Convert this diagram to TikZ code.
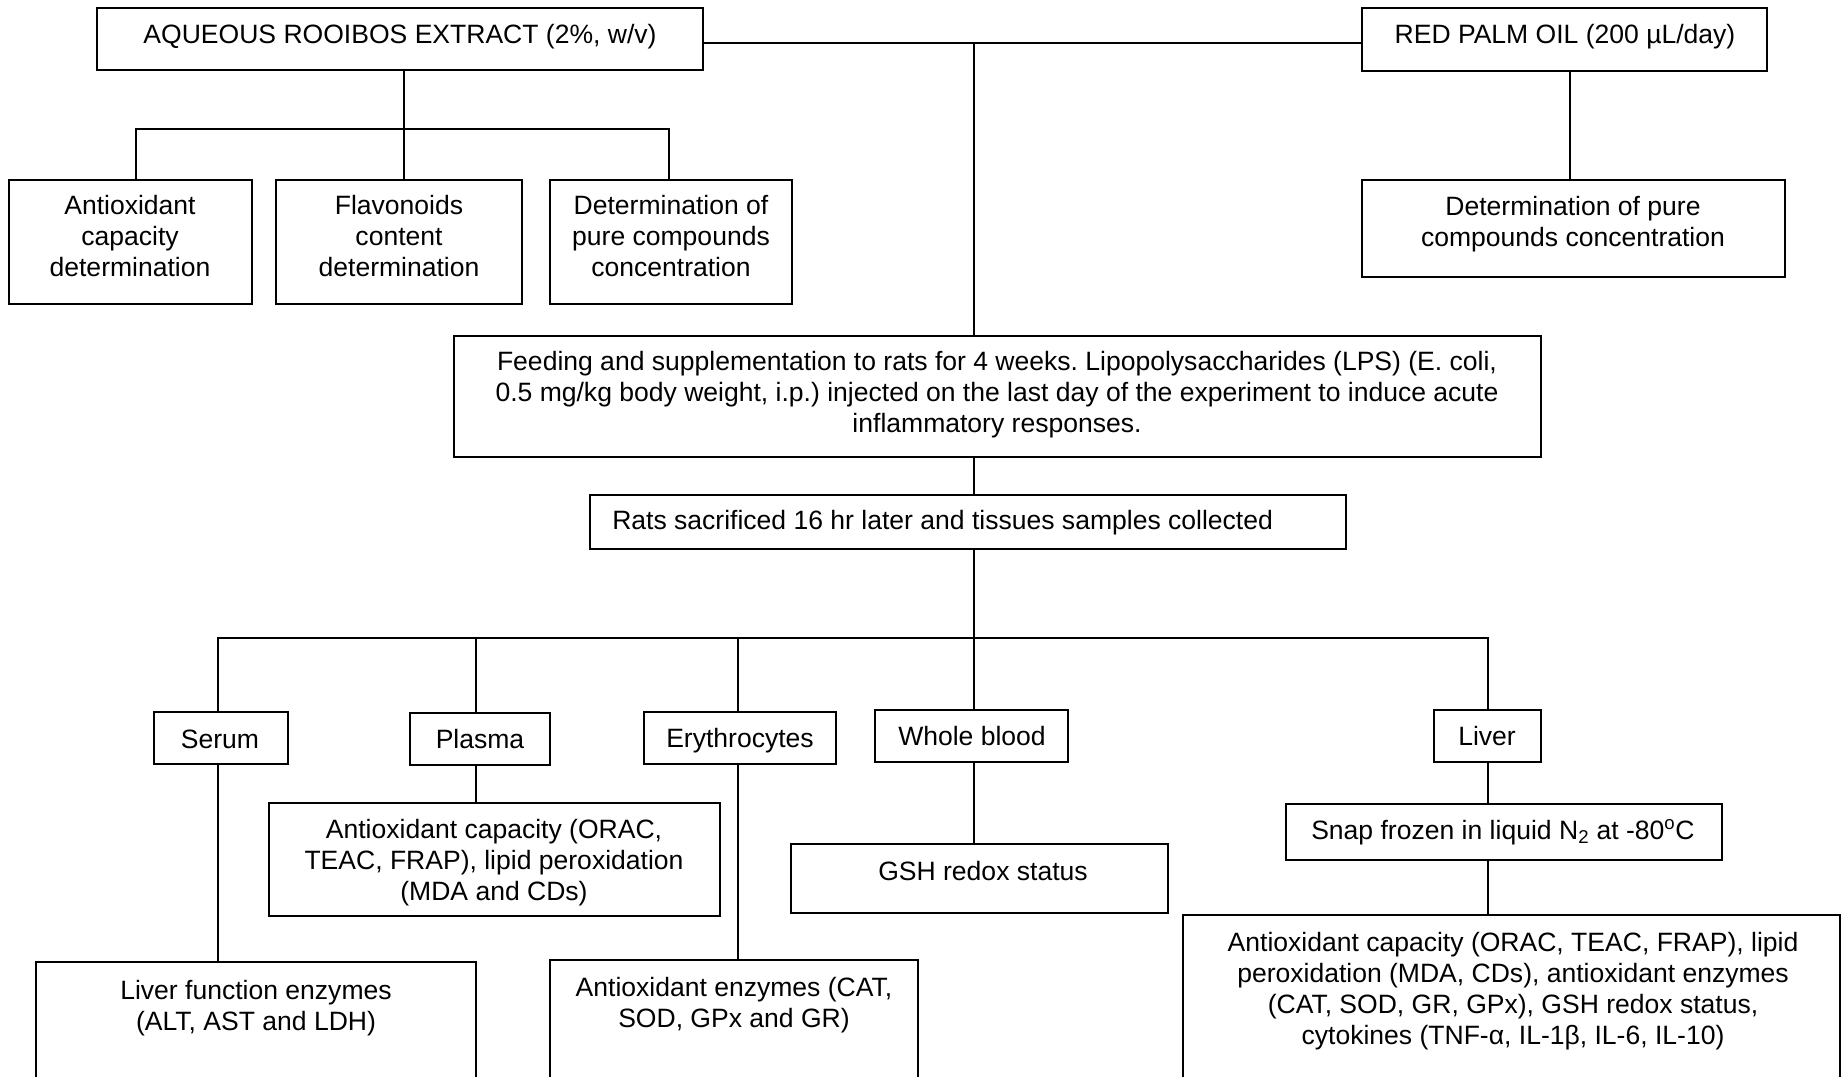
\documentclass[tikz,border=0pt]{standalone}
\usepackage{fontspec}
\setmainfont{Liberation Sans}
\usetikzlibrary{fit}
\begin{document}
\frenchspacing
\begin{tikzpicture}[x=0.75pt,y=-0.75pt,
  box/.style={draw=black, line width=1.3pt, inner sep=0pt, rectangle},
  txt/.style={align=center, inner sep=0pt, text=black, font=\fontsize{19.9}{23.25}\selectfont},
  conn/.style={draw=black, line width=1.3pt}]
\clip (0,0) rectangle (1841,1077);
\fill[white] (0,0) rectangle (1841,1077);
% ---------- top row
\node[box, fit={(97,8) (703,70)}] (aq) {};
\node[txt] (aqT) at (400,37) {AQUEOUS ROOIBOS EXTRACT (2\%, w/v)};
\node[box, fit={(1362,8) (1767,71)}] (rpo) {};
\node[txt] (rpoT) at (1565,37) {RED PALM OIL (200 µL/day)};
% ---------- rooibos analyses
\node[box, fit={(9,180) (252,304)}] (b1) {};
\node[txt] (b1T) at (130,236.5) {Antioxidant\\capacity\\determination};
\node[box, fit={(276,180) (522,304)}] (b2) {};
\node[txt] (b2T) at (399,236.5) {Flavonoids\\content\\determination};
\node[box, fit={(550,180) (792,304)}] (b3) {};
\node[txt] (b3T) at (671,236.5) {Determination of\\pure compounds\\concentration};
\node[box, fit={(1362,180) (1785,277)}] (rpd) {};
\node[txt] (rpdT) at (1573,224) {Determination of pure\\compounds concentration};
% ---------- main chain
\node[box, fit={(454,336) (1541,457)}] (feed) {};
\node[txt] (feedT) at (997,395) {Feeding and supplementation to rats for 4 weeks. Lipopolysaccharides (LPS) (E. coli,\\0.5 mg/kg body weight, i.p.) injected on the last day of the experiment to induce acute\\inflammatory responses.};
\node[box, fit={(590,495) (1346,549)}] (rats) {};
\node[txt, anchor=west] (ratsT) at (612,523) {Rats sacrificed 16 hr later and tissues samples collected};
% ---------- samples
\node[box, fit={(154,712) (288,764)}] (serum) {};
\node[txt] (serumT) at (220,739) {Serum};
\node[box, fit={(410,713) (550,765)}] (plasma) {};
\node[txt] (plasmaT) at (480,739) {Plasma};
\node[box, fit={(644,712) (836,764)}] (ery) {};
\node[txt] (eryT) at (740,741) {Erythrocytes};
\node[box, fit={(875,710) (1068,762)}] (whole) {};
\node[txt] (wholeT) at (972,736) {Whole blood};
\node[box, fit={(1434,710) (1541,762)}] (liver) {};
\node[txt] (liverT) at (1487,736) {Liver};
% ---------- sample analyses
\node[box, fit={(269,803) (720,916)}] (plasmaS) {};
\node[txt] (plasmaST) at (494,863) {Antioxidant capacity (ORAC,\\TEAC, FRAP), lipid peroxidation\\(MDA and CDs)};
\node[box, fit={(36,962) (476,1110)}] (serumS) {};
\node[txt] (serumST) at (256,1008) {Liver function enzymes\\(ALT, AST and LDH)};
\node[box, fit={(550,960) (918,1110)}] (eryS) {};
\node[txt] (eryST) at (734,1005) {Antioxidant enzymes (CAT,\\SOD, GPx and GR)};
\node[box, fit={(791,844) (1168,913)}] (gsh) {};
\node[txt] (gshT) at (983,871) {GSH redox status};
\node[box, fit={(1286,804) (1722,860)}] (snap) {};
\node[txt, anchor=west] (snapT) at (1311,832) {Snap frozen in liquid N\textsubscript{2} at -80\textsuperscript{o}C};
\node[box, fit={(1183,915) (1840,1110)}] (livS) {};
\node[txt] (livST) at (1513,991) {Antioxidant capacity (ORAC, TEAC, FRAP), lipid\\peroxidation (MDA, CDs), antioxidant enzymes\\(CAT, SOD, GR, GPx), GSH redox status,\\cytokines (TNF-α, IL-1β, IL-6, IL-10)};
% ---------- junction coordinates
\coordinate (j1) at (974,43);
\coordinate (aqbus) at (404,129);
\coordinate (aqL) at (136,129);
\coordinate (aqR) at (669,129);
\coordinate (rpox) at (1570,0);
\coordinate (j2) at (974,638);
\coordinate (sL) at (218,638);
\coordinate (pL) at (476,638);
\coordinate (eL) at (738,638);
\coordinate (lL) at (1488,638);
% ---------- connectors
\draw[conn] (aq.east |- j1) -- (rpo.west |- j1);
\draw[conn] (j1) -- (feed.north -| j1);
\draw[conn] (aq.south -| aqbus) -- (b2.north -| aqbus);
\draw[conn] (aqL |- b1.north) -- (aqL) -- (aqR) -- (aqR |- b3.north);
\draw[conn] (rpo.south -| rpox) -- (rpd.north -| rpox);
\draw[conn] (feed.south -| j1) -- (rats.north -| j1);
\draw[conn] (rats.south -| j1) -- (j2);
\draw[conn] (sL |- serum.north) -- (sL) -- (lL) -- (lL |- liver.north);
\draw[conn] (pL) -- (pL |- plasma.north);
\draw[conn] (eL) -- (eL |- ery.north);
\draw[conn] (j2) -- (j2 |- whole.north);
\draw[conn] (serum.south -| sL) -- (serumS.north -| sL);
\draw[conn] (plasma.south -| pL) -- (plasmaS.north -| pL);
\draw[conn] (ery.south -| eL) -- (eryS.north -| eL);
\draw[conn] (whole.south -| j2) -- (gsh.north -| j2);
\draw[conn] (liver.south -| lL) -- (snap.north -| lL);
\draw[conn] (snap.south -| lL) -- (livS.north -| lL);
\end{tikzpicture}
\end{document}
